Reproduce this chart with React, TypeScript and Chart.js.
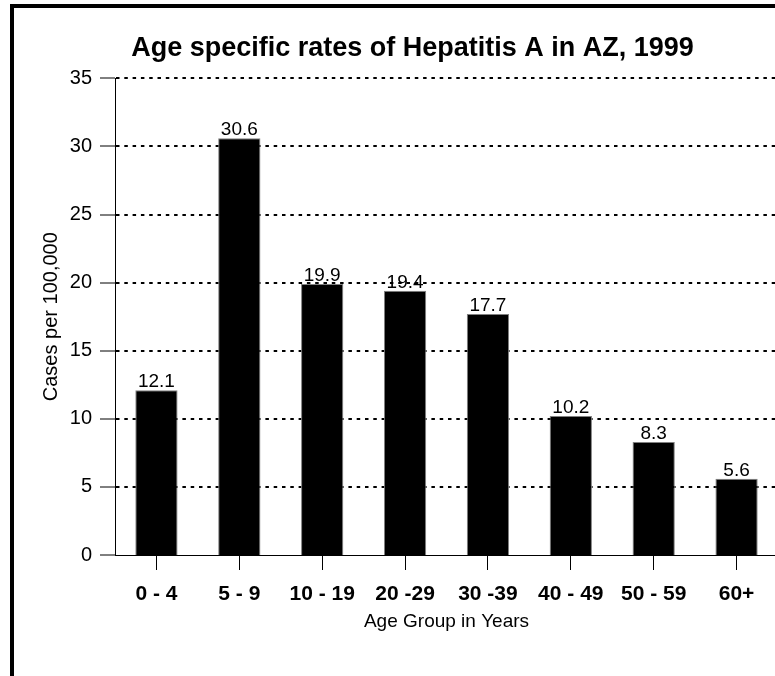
import React, { useEffect, useRef } from "react";
import { Chart, registerables } from "chart.js";

Chart.register(...registerables);

const categories = ["0 - 4", "5 - 9", "10 - 19", "20 -29", "30 -39", "40 - 49", "50 - 59", "60+"];
const rates = [12.1, 30.6, 19.9, 19.4, 17.7, 10.2, 8.3, 5.6];
const yMin = 0;
const yMax = 35;
const yStep = 5;
const chartTitle = "Age specific rates of Hepatitis A in AZ, 1999";
const xTitle = "Age Group in Years";
const yTitle = "Cases per 100,000";

const FONT = "'Liberation Sans', Arial, sans-serif";

const valueLabels = {
  id: "valueLabels",
  afterDatasetsDraw(chart: any) {
    const ctx = chart.ctx;
    const meta = chart.getDatasetMeta(0);
    ctx.save();
    ctx.fillStyle = "#000";
    ctx.font = `19px ${FONT}`;
    ctx.textAlign = "center";
    ctx.textBaseline = "alphabetic";
    meta.data.forEach((el: any, i: number) => {
      const v = chart.data.datasets[0].data[i];
      ctx.fillText(Number(v).toFixed(1), el.x, el.y - 3);
    });
    ctx.restore();
  },
};

export default function App() {
  const ref = useRef<HTMLCanvasElement>(null);
  useEffect(() => {
    if (!ref.current) return;
    const chart = new Chart(ref.current, {
      type: "bar",
      data: {
        labels: categories,
        datasets: [
          {
            data: rates,
            backgroundColor: "#000",
            borderColor: "#808080",
            borderWidth: 1,
            barPercentage: 0.51,
            categoryPercentage: 1,
          },
        ],
      },
      options: {
        animation: false,
        responsive: false,
        devicePixelRatio: 1,
        layout: { padding: { left: 47, right: 12, top: 0, bottom: 0 } },
        plugins: {
          legend: { display: false },
          tooltip: { enabled: false },
          title: {
            display: true,
            text: chartTitle,
            color: "#000",
            font: { family: FONT, size: 27, weight: "bold" },
            padding: { top: 32, bottom: 14 },
          },
        },
        scales: {
          x: {
            afterFit(scale: any) {
              scale.height = 121;
            },
            grid: {
              display: true,
              drawOnChartArea: false,
              drawTicks: true,
              tickLength: 15,
              offset: false,
              color: "#000",
              tickColor: "#000",
            },
            border: { display: true, color: "#000", width: 1 },
            ticks: {
              color: "#000",
              padding: 12,
              font: { family: FONT, size: 21, weight: "bold" },
              maxRotation: 0,
              autoSkip: false,
            },
            title: {
              display: true,
              text: xTitle,
              color: "#000",
              font: { family: FONT, size: 19 },
              padding: { top: 0, bottom: 43 },
            },
          },
          y: {
            min: yMin,
            max: yMax,
            afterFit(scale: any) {
              scale.width = 68;
            },
            grid: {
              color: "#000",
              lineWidth: (c: any) => (c.tick && c.tick.value === yMin ? 0 : 2),
              tickBorderDash: [],
              tickColor: "#000",
              tickWidth: 1,
              tickLength: 15,
              drawTicks: true,
            },
            border: { display: true, color: "#000", width: 1, dash: [3.5, 4.8] },
            ticks: {
              stepSize: yStep,
              color: "#000",
              padding: 8,
              font: { family: FONT, size: 20 },
            },
            title: {
              display: true,
              text: yTitle,
              color: "#000",
              font: { family: FONT, size: 20 },
              padding: { top: -8, bottom: 0 },
            },
          },
        },
      },
      plugins: [valueLabels],
    });
    return () => chart.destroy();
  }, []);

  return (
    <div
      style={{
        position: "fixed",
        left: 0,
        top: 0,
        width: 775,
        height: 676,
        overflow: "hidden",
        background: "#fff",
      }}
    >
      <canvas ref={ref} width={790} height={676} style={{ position: "absolute", left: 0, top: 0 }} />
      <div
        style={{
          position: "absolute",
          left: 10,
          top: 4,
          width: 800,
          height: 700,
          borderLeft: "4px solid #000",
          borderTop: "4px solid #000",
          pointerEvents: "none",
        }}
      />
    </div>
  );
}
